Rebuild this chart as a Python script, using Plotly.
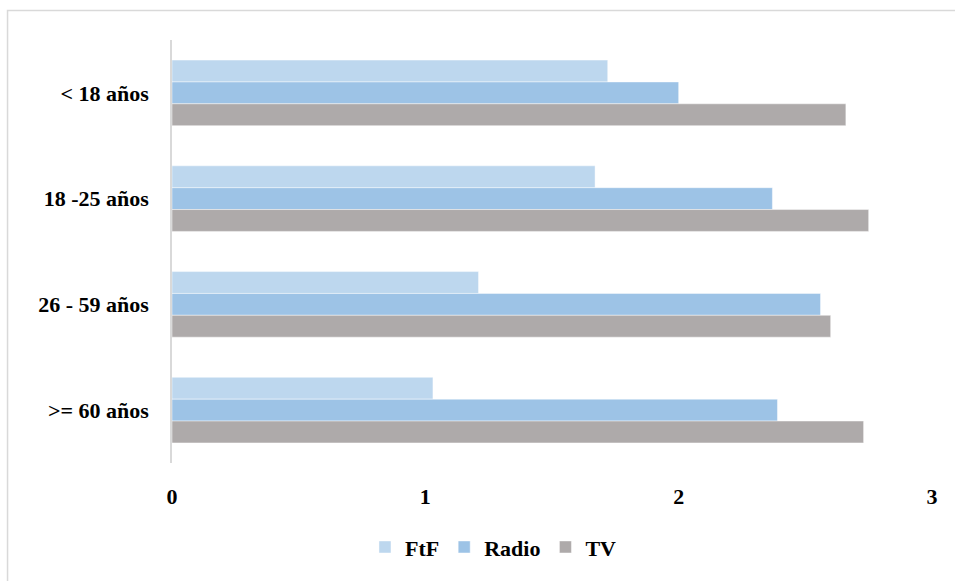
import plotly.graph_objects as go

# Age groups (top to bottom) and mean scores per channel
categories = ["< 18 años", "18 -25 años", "26 - 59 años", ">= 60 años"]
ftf = [1.72, 1.67, 1.21, 1.03]
radio = [2.00, 2.37, 2.56, 2.39]
tv = [2.66, 2.75, 2.60, 2.73]
x_ticks = [0, 1, 2, 3]

series = [
    ("FtF", ftf, "#BDD7EE"),
    ("Radio", radio, "#9DC3E6"),
    ("TV", tv, "#AEAAAA"),
]

FONT = "Liberation Serif, Times New Roman, serif"

fig = go.Figure()
for name, vals, color in series:
    fig.add_trace(go.Bar(
        y=categories, x=vals, name=name, orientation="h",
        marker=dict(color=color, line=dict(color="rgba(255,255,255,0.6)", width=0.75)),
    ))

fig.update_layout(
    width=955, height=581,
    margin=dict(l=172, r=23, t=40, b=118),
    paper_bgcolor="white", plot_bgcolor="white",
    barmode="group", bargap=0.38, bargroupgap=0,
    font=dict(family=FONT, color="#000000"),
    showlegend=True,
    legend=dict(
        orientation="h", x=0.423, xanchor="center", y=-0.199, yanchor="middle",
        font=dict(family=FONT, size=22, weight="bold", color="#000000"),
        itemwidth=30, tracegroupgap=0, traceorder="normal",
    ),
    xaxis=dict(
        range=[0, 3], tickvals=x_ticks, showgrid=False, zeroline=False,
        showline=False, ticks="", ticklabelstandoff=18,
        tickfont=dict(family=FONT, size=22, weight="bold", color="#000000"),
    ),
    yaxis=dict(
        autorange="reversed", showgrid=False, zeroline=False,
        showline=True, linecolor="#D9D9D9", linewidth=1.5, ticks="",
        ticklabelstandoff=17,
        tickfont=dict(family=FONT, size=22, weight="bold", color="#000000"),
    ),
    shapes=[dict(
        type="rect", xref="paper", yref="paper",
        x0=-0.2164, x1=1.05, y0=-0.32, y1=1.0697,
        line=dict(color="#D9D9D9", width=1.5), fillcolor="rgba(0,0,0,0)",
        layer="below",
    )],
)

fig.write_html("out.html")
